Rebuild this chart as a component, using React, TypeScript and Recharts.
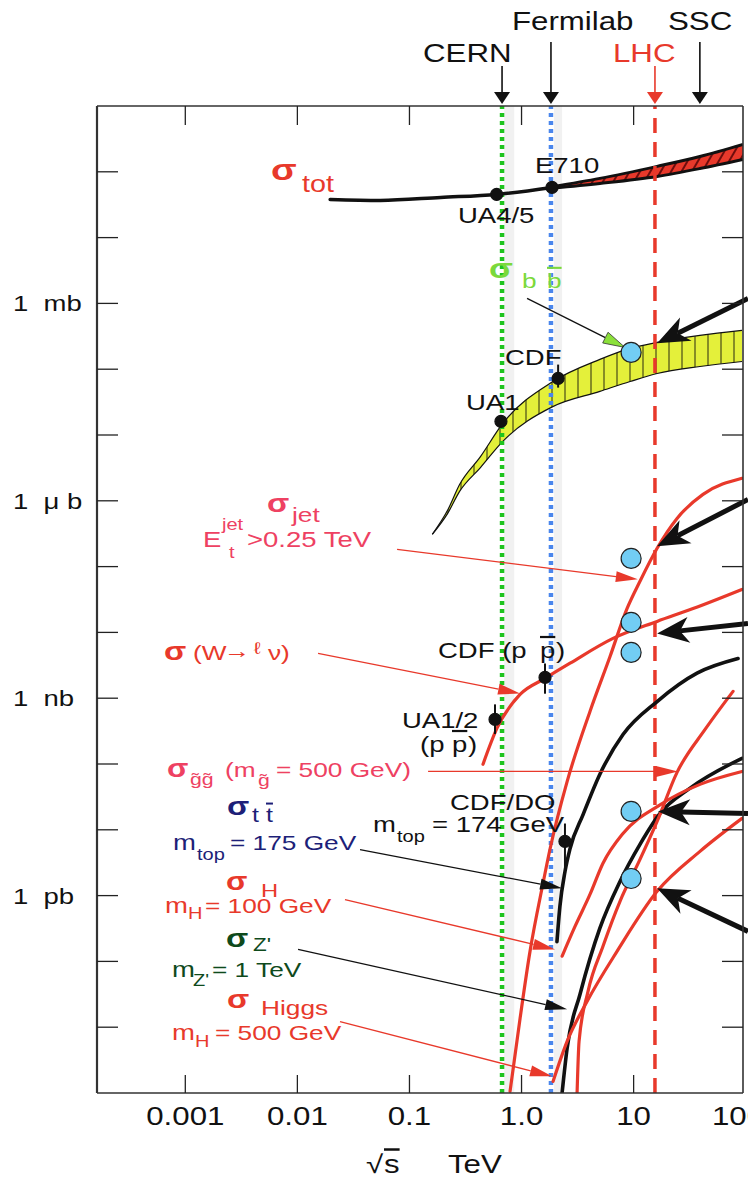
import React from 'react'
import {
  Area,
  ComposedChart,
  ErrorBar,
  Line,
  ReferenceArea,
  ReferenceLine,
  Scatter,
  XAxis,
  YAxis,
} from 'recharts'

const W = 748
const H = 1179
const FONT = '"Liberation Sans", Arial, Helvetica, sans-serif'
const SX = 1.25 // the original artwork is stretched horizontally

const RED = '#e8392b'
const PINK = '#ee4162'
const LIME = '#7bd93b'
const NAVY = '#1d1f78'
const DKGREEN = '#0e4a1c'
const BLACK = '#111111'
const CERN_GREEN = '#1ec41e'
const FNAL_BLUE = '#4a86ec'
const LHC_BLUE = '#72cdf4'

// --- axes: sqrt(s) in TeV, sigma in mb ---
const X_DOMAIN = [1.63e-4, 94.6]
const Y_DOMAIN = [1e-12, 1e3]
const X_TICKS = [0.001, 0.01, 0.1, 1, 10]
const X_TICK_LABELS = ['0.001', '0.01', '0.1', '1.0', '10']
const Y_TICKS = [1e-11, 1e-10, 1e-9, 1e-8, 1e-7, 1e-6, 1e-5, 1e-4, 1e-3, 1e-2, 1e-1, 1, 10, 100]
const Y_TICK_LABELS: Record<number, string> = {
  0: '1\u00a0\u00a0mb',
  [-3]: '1\u00a0\u00a0\u03bc\u00a0b',
  [-6]: '1\u00a0\u00a0nb',
  [-9]: '1\u00a0\u00a0pb',
}

// --- series: [sqrt(s), sigma] ---
const SIGMA_TOT = [[0.0196, 38], [0.055, 36.7], [0.19, 40.8], [0.6, 45.3], [1.87, 57.9]]
const SIGMA_TOT_BAND = [[1.87, 56.5, 59.5], [5.0, 66.6, 79.5], [16.2, 85, 121], [39, 112, 171], [94.6, 154, 261]]
const SIGMA_BB_BAND = [
  [0.16, 3.1e-4, 3.1e-4], [0.22, 6.5e-4, 7.3e-4], [0.28, 1.39e-3, 1.77e-3], [0.43, 3.2e-3, 4.7e-3],
  [0.68, 8.0e-3, 0.015], [1.9, 0.027, 0.065], [5.0, 0.046, 0.141], [9.3, 0.065, 0.207],
  [16.2, 0.086, 0.255], [39, 0.11, 0.326], [92.7, 0.131, 0.389],
]
const SIGMA_JET = [
  [0.79, 1.06e-12], [0.97, 1.36e-11], [1.19, 1.42e-10], [1.55, 1.5e-9], [1.8, 5.2e-9], [2.55, 5.4e-8],
  [4.08, 6.3e-7], [6.16, 4.3e-6], [8.73, 2.3e-5], [11.4, 6.0e-5], [16.2, 1.9e-4], [24.4, 5.4e-4],
  [41.6, 1.25e-3], [92.7, 2.2e-3],
]
const SIGMA_W = [
  [0.453, 9.9e-8], [0.604, 3.5e-7], [0.97, 1.14e-6], [1.62, 2.0e-6], [2.71, 3.4e-6], [6.55, 8.1e-6],
  [16.2, 1.47e-5], [33.9, 2.3e-5], [92.7, 4.5e-5],
]
const SIGMA_TT = [
  [2.07, 2.0e-10], [2.2, 6.9e-10], [2.44, 2.3e-9], [2.71, 5.2e-9], [3.54, 1.7e-8], [5.0, 7.0e-8],
  [8.04, 2.8e-7], [16.2, 8.9e-7], [36.8, 2.4e-6], [85.4, 4.0e-6],
]
const SIGMA_ZP = [
  [2.3, 1.0e-12], [2.55, 4.8e-12], [3.33, 3.2e-11], [5.0, 3.2e-10], [7.56, 1.64e-9], [11.4, 6.0e-9],
  [17.2, 1.77e-8], [31.9, 4.3e-8], [92.7, 1.22e-7],
]
const SIGMA_H100 = [
  [2.3, 1.2e-10], [3.0, 3.4e-10], [4.08, 1.04e-9], [5.33, 3.1e-9], [8.04, 8.8e-9], [17.2, 2.4e-8],
  [39.1, 4.9e-8], [92.7, 7.7e-8],
]
const SIGMA_GG = [
  [3.13, 1.0e-12], [3.26, 6.1e-12], [3.92, 3.5e-11], [5.33, 1.7e-10], [7.56, 8.2e-10], [11.4, 3.55e-9],
  [16.2, 1.34e-8], [24.4, 7.45e-8], [43.4, 3.35e-7], [77.1, 1.27e-6],
]
const SIGMA_H500 = [
  [1.91, 1.5e-12], [2.55, 6.1e-12], [3.84, 2.46e-11], [7.11, 1.42e-10], [16.2, 1.16e-9], [39.1, 4.7e-9],
  [92.7, 1.49e-8],
]

// measurements: [sqrt(s), sigma, err-, err+]
const MEASURED = [
  [0.6, 45.3, 0, 0], // UA4/5
  [1.87, 57.9, 0, 0], // E710
  [0.655, 0.0161, 0, 0], // UA1 bb
  [2.12, 0.0725, 0.02, 0.045], // CDF bb
  [0.58, 4.76e-7, 1.9e-7, 3.3e-7], // UA1/2 W
  [1.62, 2.07e-6, 0.9e-6, 1.3e-6], // CDF W
  [2.44, 6.66e-9, 4.3e-9, 5.8e-9], // CDF/D0 top
]
// LHC marks at 10 TeV
const LHC_MARKS = [[9.5, 0.18], [9.5, 1.33e-4], [9.5, 1.42e-5], [9.5, 4.97e-6], [9.5, 1.9e-8], [9.5, 1.82e-9]]

// machines
const CERN_E = 0.67
const FNAL_E = 1.83
const LHC_E = 15.5
const SSC_E = 39

const pts = (a: number[][]) => a.map(([x, y]) => ({ x, y }))
const bandPts = (a: number[][]) => a.map(([x, lo, hi]) => ({ x, r: [lo, hi] }))

const CURVES = [
  { key: 'tot', data: SIGMA_TOT, color: BLACK, w: 3.5 },
  { key: 'jet', data: SIGMA_JET, color: RED, w: 3.2 },
  { key: 'w', data: SIGMA_W, color: RED, w: 3.2 },
  { key: 'tt', data: SIGMA_TT, color: BLACK, w: 3.6 },
  { key: 'zp', data: SIGMA_ZP, color: BLACK, w: 3.6 },
  { key: 'h100', data: SIGMA_H100, color: RED, w: 3.2 },
  { key: 'gg', data: SIGMA_GG, color: RED, w: 3.2 },
  { key: 'h500', data: SIGMA_H500, color: RED, w: 3.2 },
]

// annotation arrows, data coordinates [from, to]
type Arrow = { from: number[]; to: number[]; kind: 'red' | 'black' | 'green' | 'thick' }
const ARROWS: Arrow[] = [
  { from: [1.12, 1.19], to: [8.38, 0.214], kind: 'green' },
  { from: [0.0775, 1.83e-4], to: [10.9, 6.4e-5], kind: 'red' },
  { from: [0.0153, 4.8e-6], to: [0.97, 1.18e-6], kind: 'red' },
  { from: [0.1466, 7.7e-8], to: [24.9, 7.7e-8], kind: 'red' },
  { from: [0.0362, 5.0e-9], to: [2.3, 1.29e-9], kind: 'black' },
  { from: [0.0266, 8.7e-10], to: [1.99, 1.52e-10], kind: 'red' },
  { from: [0.01014, 1.52e-10], to: [2.55, 1.87e-11], kind: 'black' },
  { from: [0.024, 1.22e-11], to: [1.87, 1.79e-12], kind: 'red' },
  { from: [104.8, 1.19], to: [16.2, 0.247], kind: 'thick' },
  { from: [104.8, 1.05e-3], to: [16.2, 2.03e-4], kind: 'thick' },
  { from: [104.8, 1.37e-5], to: [16.2, 9.66e-6], kind: 'thick' },
  { from: [104.8, 1.77e-8], to: [16.5, 1.9e-8], kind: 'thick' },
  { from: [104.8, 2.86e-10], to: [16.2, 1.29e-9], kind: 'thick' },
]

const ARROW_STYLE = {
  red: { stroke: RED, w: 1.3, len: 22, hw: 11, notch: 0, fill: RED, edge: 'none' },
  black: { stroke: BLACK, w: 1.3, len: 22, hw: 11, notch: 0, fill: BLACK, edge: 'none' },
  green: { stroke: BLACK, w: 1.3, len: 22, hw: 12, notch: 0, fill: '#8be03a', edge: '#333' },
  thick: { stroke: BLACK, w: 5, len: 32, hw: 26, notch: 9, fill: BLACK, edge: 'none' },
}

// text pieces: [text, x, baseline, size, colour, overline, bold]
type Piece = [string, number, number, number, string, boolean?, boolean?]
const TEXTS: Piece[] = [
  ['Fermilab', 512, 30, 25, BLACK],
  ['SSC', 668, 30, 25, BLACK],
  ['CERN', 423, 62, 25, BLACK],
  ['LHC', 613, 62, 25, RED],
  ['\u03c3', 271, 180, 30, RED, false, true],
  ['tot', 302, 192, 23, RED],
  ['E710', 535, 173, 22, BLACK],
  ['UA4/5', 458, 223, 22, BLACK],
  ['\u03c3', 489, 278, 28, LIME, false, true],
  ['b', 522, 288, 21, LIME],
  ['b', 547, 288, 21, LIME, true],
  ['CDF', 505, 365, 22, BLACK],
  ['UA1', 466, 410, 22, BLACK],
  ['\u03c3', 267, 512, 26, PINK, false, true],
  ['jet', 292, 522, 21, PINK],
  ['E', 203, 547, 22, PINK],
  ['jet', 222, 530, 16, PINK],
  ['t', 229, 558, 16, PINK],
  ['>0.25 TeV', 247, 547, 22, PINK],
  ['\u03c3', 164, 660, 26, RED, false, true],
  ['(W', 193, 660, 21, RED],
  ['\u2192', 224, 658, 21, RED],
  ['\u2113', 254, 654, 17, RED],
  ['\u03bd)', 268, 660, 21, RED],
  ['CDF (p', 438, 658, 22, BLACK],
  ['p', 540, 658, 22, BLACK, true],
  [')', 556, 658, 22, BLACK],
  ['UA1/2', 402, 728, 22, BLACK],
  ['(p', 420, 752, 22, BLACK],
  ['p', 452, 752, 22, BLACK, true],
  [')', 468, 752, 22, BLACK],
  ['\u03c3', 167, 777, 25, PINK, false, true],
  ['g\u0303g\u0303', 190, 785, 17, PINK],
  ['(m', 225, 777, 21, PINK],
  ['g\u0303', 258, 786, 17, PINK],
  ['= 500 GeV)', 276, 777, 21, PINK],
  ['CDF/DO', 450, 810, 22, BLACK],
  ['m', 373, 832, 22, BLACK],
  ['top', 397, 842, 16, BLACK],
  ['= 174 GeV', 432, 832, 22, BLACK],
  ['\u03c3', 227, 815, 26, NAVY, false, true],
  ['t', 252, 822, 20, NAVY],
  ['t', 266, 822, 20, NAVY, true],
  ['m', 173, 850, 22, NAVY],
  ['top', 197, 860, 16, NAVY],
  ['= 175 GeV', 230, 850, 21, NAVY],
  ['\u03c3', 226, 890, 25, RED, false, true],
  ['H', 261, 897, 19, RED],
  ['m', 165, 913, 22, RED],
  ['H', 188, 919, 16, RED],
  ['= 100 GeV', 205, 913, 21, RED],
  ['\u03c3', 226, 947, 26, DKGREEN, false, true],
  ["Z'", 253, 951, 18, DKGREEN],
  ['m', 172, 977, 22, DKGREEN],
  ["Z'", 193, 986, 16, DKGREEN],
  ['= 1 TeV', 212, 977, 21, DKGREEN],
  ['\u03c3', 227, 1008, 26, RED, false, true],
  ['Higgs', 261, 1015, 21, RED],
  ['m', 172, 1040, 22, RED],
  ['H', 195, 1047, 16, RED],
  ['= 500 GeV', 215, 1040, 21, RED],
  ['100', 712, 1125, 25, BLACK],
  ['\u221a', 366, 1173, 25, BLACK],
  ['s', 384, 1173, 25, BLACK, true],
  ['TeV', 448, 1173, 25, BLACK],
]

function Txt({ t, x, y, s, c = BLACK, a = 'start', o = false, b = false }: any) {
  return (
    <text
      transform={`translate(${x} ${y}) scale(${SX} 1)`}
      fontSize={s}
      fill={c}
      textAnchor={a}
      fontFamily={FONT}
      fontWeight={b ? 'bold' : 'normal'}
      style={o ? { textDecoration: 'overline' } : undefined}
    >
      {t}
    </text>
  )
}

const lg = (v: number) => Math.round(Math.log10(v))

const BottomTick = (p: any) => {
  const i = X_TICKS.findIndex((v) => lg(v) === lg(p.payload.value))
  return (
    <g>
      <line x1={p.x} y1={p.y} x2={p.x} y2={p.y - 18} stroke="#222" strokeWidth={1.3} />
      <Txt t={X_TICK_LABELS[i]} x={p.x} y={p.y + 32} s={25} a="middle" />
    </g>
  )
}
const TopTick = (p: any) => (
  <line x1={p.x} y1={p.y} x2={p.x} y2={p.y + 19} stroke="#222" strokeWidth={1.3} />
)
const LeftTick = (p: any) => {
  const label = Y_TICK_LABELS[lg(p.payload.value)]
  return (
    <g>
      <line x1={p.x} y1={p.y} x2={p.x + 21} y2={p.y} stroke="#222" strokeWidth={1.3} />
      {label && <Txt t={label} x={p.x - 84} y={p.y + 8} s={22} />}
    </g>
  )
}
const RightTick = (p: any) => (
  <line x1={p.x} y1={p.y} x2={p.x - 21} y2={p.y} stroke="#222" strokeWidth={1.3} />
)

const TopArrow = (p: any) => {
  const vb = p.viewBox || {}
  const { x, y } = vb
  if (x == null) return null
  return (
    <g>
      <line x1={x} y1={y - p.len} x2={x} y2={y - 12} stroke={p.color} strokeWidth={1.6} />
      <polygon points={`${x - 8},${y - 14} ${x + 8},${y - 14} ${x},${y - 2}`} fill={p.color} />
    </g>
  )
}

const arrowShape = (kind: Arrow['kind']) => (p: any) => {
  const st = ARROW_STYLE[kind]
  const { x1, y1, x2, y2 } = p
  const d = Math.hypot(x2 - x1, y2 - y1) || 1
  const ux = (x2 - x1) / d
  const uy = (y2 - y1) / d
  const nx = -uy
  const ny = ux
  const bx = x2 - ux * st.len
  const by = y2 - uy * st.len
  const mx = x2 - ux * (st.len - st.notch)
  const my = y2 - uy * (st.len - st.notch)
  const head = `${x2},${y2} ${bx + (nx * st.hw) / 2},${by + (ny * st.hw) / 2} ${mx},${my} ${bx - (nx * st.hw) / 2},${by - (ny * st.hw) / 2}`
  return (
    <g>
      <line x1={x1} y1={y1} x2={mx} y2={my} stroke={st.stroke} strokeWidth={st.w} />
      <polygon points={head} fill={st.fill} stroke={st.edge} strokeWidth={0.8} />
    </g>
  )
}

const dotShape = (r: number, fill: string, stroke: string) => (p: any) => (
  <circle cx={p.cx} cy={p.cy} r={r} fill={fill} stroke={stroke} strokeWidth={1.2} />
)

const axisCommon = {
  type: 'number' as const,
  scale: 'log' as const,
  allowDataOverflow: true,
  interval: 0 as const,
  tickSize: 0,
  tickMargin: 0,
  tickLine: false,
}

export default function App() {
  const measured = MEASURED.map(([x, y, lo, hi]) => ({ x, y, err: [lo, hi] }))
  return (
    <div style={{ position: 'relative', width: W, height: H, background: '#fff' }}>
      <style>{'body{margin:0}'}</style>
      <svg width={0} height={0} style={{ position: 'absolute' }}>
        <defs>
          <pattern id="hatchY" width="13" height="20" patternUnits="userSpaceOnUse">
            <rect width="13" height="20" fill="#e4f03a" />
            <line x1="6" y1="0" x2="6" y2="20" stroke="#2a2a10" strokeWidth="1" />
          </pattern>
          <pattern id="hatchR" width="9" height="9" patternUnits="userSpaceOnUse" patternTransform="rotate(30)">
            <rect width="9" height="9" fill={RED} />
            <line x1="1" y1="0" x2="1" y2="9" stroke="#6e0d0d" strokeWidth="2" />
          </pattern>
        </defs>
      </svg>
      <ComposedChart width={W} height={H} margin={{ top: 86, right: 0, bottom: 0, left: 0 }}>
        <XAxis
          {...axisCommon}
          dataKey="x"
          domain={X_DOMAIN}
          ticks={X_TICKS}
          height={86}
          tick={<BottomTick />}
          axisLine={{ stroke: '#333', strokeWidth: 1.6 }}
        />
        <XAxis
          {...axisCommon}
          xAxisId="top"
          orientation="top"
          dataKey="x"
          domain={X_DOMAIN}
          ticks={X_TICKS}
          height={20}
          tick={<TopTick />}
          axisLine={{ stroke: '#333', strokeWidth: 1.6 }}
        />
        <YAxis
          {...axisCommon}
          dataKey="y"
          domain={Y_DOMAIN}
          ticks={Y_TICKS}
          width={97}
          tick={<LeftTick />}
          axisLine={{ stroke: '#333', strokeWidth: 2.2 }}
        />
        <YAxis
          {...axisCommon}
          yAxisId="right"
          orientation="right"
          dataKey="y"
          domain={Y_DOMAIN}
          ticks={Y_TICKS}
          width={5}
          tick={<RightTick />}
          axisLine={{ stroke: '#333', strokeWidth: 1.6 }}
        />

        <ReferenceArea x1={0.7} x2={0.86} fill="#efefef" fillOpacity={0.9} stroke="none" />
        <ReferenceArea x1={1.95} x2={2.3} fill="#efefef" fillOpacity={0.9} stroke="none" />

        <Area
          data={bandPts(SIGMA_TOT_BAND)}
          dataKey="r"
          type="monotone"
          stroke={BLACK}
          strokeWidth={3}
          fill="url(#hatchR)"
          fillOpacity={1}
          isAnimationActive={false}
        />
        <Area
          data={bandPts(SIGMA_BB_BAND)}
          dataKey="r"
          type="monotone"
          stroke={BLACK}
          strokeWidth={1.2}
          fill="url(#hatchY)"
          fillOpacity={1}
          isAnimationActive={false}
        />

        <ReferenceLine
          x={CERN_E}
          stroke={CERN_GREEN}
          strokeWidth={4.5}
          strokeDasharray="4 4"
          label={<TopArrow len={40} color={BLACK} />}
        />
        <ReferenceLine
          x={FNAL_E}
          stroke={FNAL_BLUE}
          strokeWidth={4.5}
          strokeDasharray="4 4"
          label={<TopArrow len={64} color={BLACK} />}
        />
        <ReferenceLine
          x={LHC_E}
          stroke={RED}
          strokeWidth={3.5}
          strokeDasharray="15 9"
          label={<TopArrow len={40} color={RED} />}
        />
        <ReferenceLine x={SSC_E} stroke="none" label={<TopArrow len={64} color={BLACK} />} />

        {CURVES.map((c) => (
          <Line
            key={c.key}
            data={pts(c.data)}
            dataKey="y"
            type="monotone"
            stroke={c.color}
            strokeWidth={c.w}
            strokeLinecap="round"
            dot={false}
            activeDot={false}
            isAnimationActive={false}
          />
        ))}

        {ARROWS.map((a, i) => (
          <ReferenceLine
            key={i}
            segment={[
              { x: a.from[0], y: a.from[1] },
              { x: a.to[0], y: a.to[1] },
            ]}
            ifOverflow="visible"
            shape={arrowShape(a.kind)}
          />
        ))}

        <Scatter data={pts(LHC_MARKS)} dataKey="y" shape={dotShape(10, LHC_BLUE, '#222')} isAnimationActive={false} />
        <Scatter data={measured} dataKey="y" shape={dotShape(6, BLACK, BLACK)} isAnimationActive={false}>
          <ErrorBar dataKey="err" direction="y" width={0} stroke={BLACK} strokeWidth={2} />
        </Scatter>
      </ComposedChart>
      <svg width={W} height={H} style={{ position: 'absolute', left: 0, top: 0, pointerEvents: 'none' }}>
        {TEXTS.map(([t, x, y, s, c, o, b], i) => (
          <Txt key={i} t={t} x={x} y={y} s={s} c={c} o={o} b={b} />
        ))}
      </svg>
    </div>
  )
}
